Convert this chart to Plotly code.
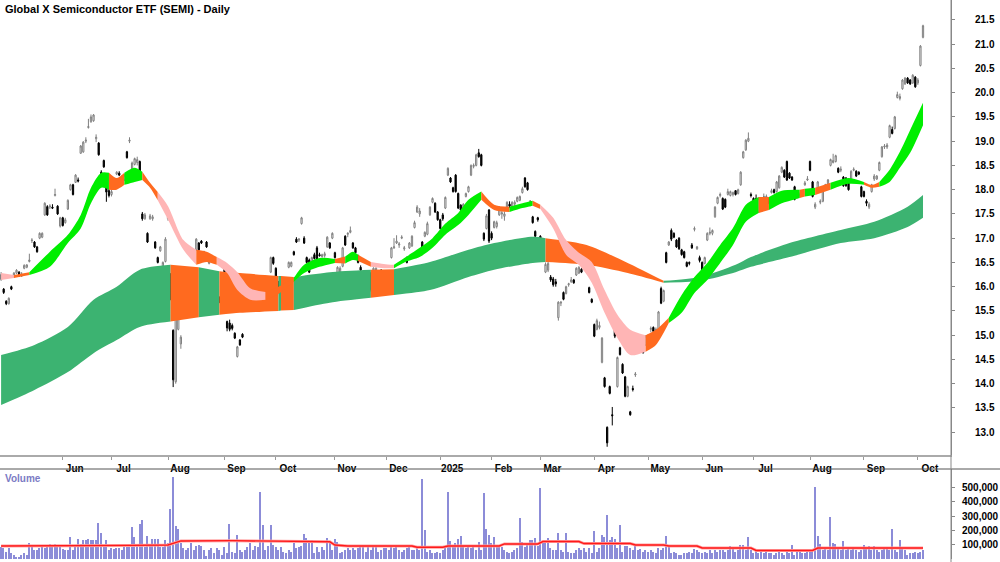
import pandas as pd
import plotly.graph_objects as go

# ---------------- calendar (trading days) ----------------
holidays = ["2024-05-27", "2024-06-19", "2024-07-04", "2024-09-02", "2024-11-28", "2024-12-25",
            "2025-01-01", "2025-01-09", "2025-01-20", "2025-02-17", "2025-04-18", "2025-05-26",
            "2025-06-19", "2025-07-04", "2025-09-01"]
dates = [d for d in pd.bdate_range("2024-04-29", "2025-10-03") if d.strftime("%Y-%m-%d") not in holidays]

# ---------------- price data ----------------
open_ = [
    16.15, 15.95, 15.70, 15.65, 16.00, 16.20, 16.28, 16.30, 16.22, 16.38,
    16.40, 16.52, 16.95, 16.92, 16.82, 17.00, 17.02, 17.48, 17.65, 17.64,
    17.64, 17.88, 17.66, 17.25, 17.42, 17.32, 17.60, 18.00, 18.10, 18.15,
    18.20, 18.75, 18.78, 19.00, 19.28, 19.40, 19.42, 19.05, 18.96, 18.36,
    18.60, 18.24, 17.98, 17.90, 18.02, 18.32, 18.34, 18.22, 18.20, 18.78,
    19.00, 18.35, 18.52, 18.56, 18.58, 17.50, 17.40, 17.10, 17.40, 17.40,
    16.92, 16.60, 16.74, 16.42, 16.52, 17.40, 16.25, 15.10, 14.04, 15.12,
    14.82, 15.64, 15.74, 15.68, 16.12, 16.34, 16.76, 16.90, 16.94, 16.70,
    16.92, 16.48, 16.52, 16.16, 16.26, 15.78, 15.95, 16.40, 15.28, 15.25,
    15.20, 15.04, 14.56, 14.90, 15.02, 15.56, 15.90, 15.80, 15.72, 15.60,
    15.70, 15.96, 15.92, 15.80, 15.88, 16.30, 16.60, 16.38, 16.10, 15.68,
    15.90, 16.04, 16.40, 16.42, 16.72, 16.98, 16.96, 17.30, 17.00, 16.60,
    16.55, 16.50, 16.66, 16.80, 16.66, 16.62, 16.64, 16.82, 16.90, 17.00,
    16.70, 16.26, 16.28, 16.42, 17.04, 17.08, 17.12, 16.90, 16.80, 16.64,
    16.40, 16.26, 16.24, 16.22, 16.28, 16.10, 16.30, 16.30, 16.34, 16.02,
    16.08, 16.10, 16.60, 16.80, 16.90, 16.86, 17.00, 16.78, 16.60, 16.80,
    16.84, 17.22, 17.54, 17.50, 16.92, 17.04, 17.08, 17.48, 17.74, 17.72,
    17.54, 17.38, 17.48, 17.62, 18.30, 18.24, 18.04, 18.30, 17.92, 17.68,
    17.62, 17.86, 17.96, 18.30, 18.48, 18.50, 18.76, 18.72, 17.10, 17.20,
    17.58, 17.10, 17.22, 17.24, 17.48, 17.50, 17.45, 17.62, 17.70, 17.64,
    17.70, 17.76, 17.78, 17.94, 18.24, 18.14, 17.72, 17.44, 17.14, 17.42,
    17.04, 16.62, 16.30, 16.34, 16.20, 16.16, 16.10, 15.36, 15.66, 15.88,
    15.86, 16.04, 16.10, 16.14, 16.24, 16.28, 16.36, 16.40, 16.42, 15.98,
    15.74, 15.22, 15.12, 15.16, 14.44, 14.12, 13.10, 13.94, 13.36, 15.38,
    13.94, 14.74, 14.40, 14.14, 13.74, 13.42, 13.90, 14.18, 14.74, 14.80,
    14.76, 14.80, 14.82, 15.12, 15.16, 15.10, 15.06, 15.96, 15.70, 16.70,
    16.86, 17.16, 17.10, 16.96, 17.00, 16.76, 16.72, 16.50, 16.50, 16.86,
    17.18, 16.78, 16.60, 16.50, 16.48, 16.96, 17.10, 17.10, 17.44, 17.72,
    17.88, 17.82, 17.80, 17.90, 17.88, 17.90, 17.98, 17.92, 18.10, 18.66,
    18.82, 19.00, 17.90, 17.82, 17.82, 17.54, 17.82, 17.86, 17.84, 17.82,
    17.94, 18.00, 17.96, 18.04, 18.36, 18.40, 18.58, 18.34, 18.26, 18.06,
    17.86, 17.88, 17.92, 18.10, 18.20, 18.58, 18.16, 17.64, 17.96, 17.74,
    17.76, 18.08, 18.06, 18.50, 18.56, 18.58, 18.44, 18.40, 18.26,
    18.24, 18.20, 18.18, 18.40, 18.38, 18.36, 18.06, 17.96, 17.76,
    17.64, 17.96, 18.22, 18.22, 18.40, 18.68, 18.88, 18.88, 19.08, 19.24,
    19.26, 19.90, 19.88, 20.08, 20.18, 20.30, 20.26, 20.20, 20.32, 20.20,
    20.56, 21.14,
]
high = [
    16.30, 15.97, 15.72, 15.78, 16.02, 16.30, 16.36, 16.32, 16.30, 16.46,
    16.46, 16.68, 17.00, 16.94, 16.84, 17.12, 17.12, 17.74, 17.68, 17.70,
    17.70, 18.02, 17.68, 17.44, 17.44, 17.42, 17.80, 18.12, 18.12, 18.32,
    18.25, 18.92, 19.00, 19.08, 19.46, 19.55, 19.56, 19.14, 18.98, 18.40,
    18.62, 18.26, 18.02, 18.00, 18.12, 18.38, 18.38, 18.30, 18.32, 18.80,
    19.08, 18.58, 18.66, 18.68, 18.60, 17.54, 17.52, 17.12, 17.50, 17.48,
    16.94, 16.62, 16.84, 16.52, 17.02, 17.50, 16.28, 15.12, 15.50, 15.38,
    15.00, 15.76, 15.76, 15.78, 16.20, 16.36, 17.00, 16.92, 16.96, 16.74,
    16.94, 16.54, 16.62, 16.30, 16.30, 15.80, 16.02, 16.42, 15.30, 15.32,
    15.24, 15.06, 14.78, 14.92, 15.04, 15.78, 15.98, 15.85, 15.74, 15.72,
    15.74, 15.98, 15.94, 15.84, 15.92, 16.62, 16.62, 16.40, 16.12, 15.78,
    15.96, 16.10, 16.52, 16.52, 16.74, 17.02, 17.00, 17.44, 17.04, 16.62,
    16.58, 16.62, 16.70, 16.84, 16.70, 16.68, 16.72, 17.04, 16.92, 17.12,
    16.72, 16.42, 16.42, 16.82, 17.06, 17.12, 17.24, 16.92, 16.82, 16.66,
    16.44, 16.30, 16.28, 16.26, 16.30, 16.40, 16.40, 16.34, 16.36, 16.14,
    16.10, 16.22, 16.82, 17.00, 17.06, 16.92, 17.06, 16.84, 16.62, 16.92,
    17.06, 17.36, 17.68, 17.62, 16.94, 17.14, 17.34, 17.66, 17.84, 17.74,
    17.56, 17.40, 17.52, 17.86, 18.46, 18.26, 18.06, 18.32, 17.94, 17.70,
    17.72, 17.94, 18.08, 18.52, 18.54, 18.74, 18.84, 18.74, 17.12, 17.50,
    17.60, 17.14, 17.36, 17.36, 17.66, 17.62, 17.55, 17.76, 17.76, 17.76,
    17.78, 17.86, 17.88, 18.06, 18.26, 18.16, 17.78, 17.46, 17.16, 17.44,
    17.06, 16.66, 16.50, 16.52, 16.24, 16.20, 16.16, 15.70, 15.70, 15.90,
    16.02, 16.08, 16.20, 16.16, 16.40, 16.42, 16.38, 16.52, 16.52, 16.00,
    15.76, 15.24, 15.34, 15.28, 14.96, 14.14, 13.12, 13.96, 13.52, 15.40,
    14.56, 14.76, 14.42, 14.16, 13.96, 13.44, 13.96, 14.24, 14.80, 14.82,
    14.80, 15.00, 15.02, 15.18, 15.18, 15.16, 15.50, 16.00, 15.94, 16.72,
    16.94, 17.20, 17.12, 16.98, 17.02, 16.78, 16.74, 16.52, 16.52, 16.90,
    17.24, 16.84, 16.64, 16.52, 16.62, 17.12, 17.22, 17.18, 17.66, 17.86,
    17.94, 17.84, 17.82, 18.02, 17.98, 17.96, 17.99, 18.02, 18.38, 18.80,
    19.04, 19.18, 17.94, 17.84, 17.90, 17.84, 17.84, 17.92, 17.90, 17.84,
    18.02, 18.02, 18.18, 18.30, 18.48, 18.42, 18.60, 18.36, 18.28, 18.08,
    17.94, 17.94, 17.98, 18.18, 18.28, 18.60, 18.18, 17.74, 18.18, 17.80,
    18.02, 18.12, 18.22, 18.64, 18.74, 18.72, 18.46, 18.48, 18.28,
    18.26, 18.22, 18.40, 18.46, 18.40, 18.38, 18.08, 17.98, 17.80,
    17.74, 18.12, 18.32, 18.30, 18.58, 18.90, 18.94, 18.96, 19.34, 19.30,
    19.52, 20.02, 19.98, 20.28, 20.32, 20.32, 20.28, 20.38, 20.34, 20.30,
    20.98, 21.40,
]
low = [
    16.12, 15.85, 15.62, 15.63, 15.93, 16.18, 16.26, 16.20, 16.20, 16.36,
    16.38, 16.50, 16.90, 16.80, 16.70, 16.98, 17.00, 17.46, 17.46, 17.60,
    17.60, 17.86, 17.48, 17.22, 17.24, 17.30, 17.58, 17.98, 17.88, 18.14,
    18.15, 18.74, 18.76, 18.96, 19.26, 19.38, 19.40, 18.98, 18.70, 18.08,
    18.45, 17.75, 17.84, 17.86, 18.00, 18.30, 18.28, 18.18, 18.18, 18.64,
    18.96, 18.30, 18.50, 18.50, 18.30, 17.36, 17.38, 16.90, 17.38, 17.36,
    16.78, 16.48, 16.72, 16.40, 16.50, 17.36, 15.72, 13.93, 14.00, 15.10,
    14.72, 15.62, 15.62, 15.66, 16.08, 16.22, 16.74, 16.74, 16.88, 16.66,
    16.80, 16.46, 16.50, 16.14, 16.14, 15.66, 15.93, 16.18, 15.08, 15.08,
    15.10, 14.92, 14.54, 14.78, 14.94, 15.54, 15.86, 15.70, 15.56, 15.58,
    15.62, 15.86, 15.72, 15.74, 15.82, 16.28, 16.45, 16.06, 15.98, 15.66,
    15.88, 16.02, 16.38, 16.40, 16.64, 16.90, 16.92, 17.28, 16.88, 16.48,
    16.28, 16.48, 16.56, 16.54, 16.62, 16.60, 16.60, 16.80, 16.78, 16.98,
    16.58, 16.24, 16.24, 16.40, 16.84, 17.02, 17.10, 16.78, 16.68, 16.48,
    16.30, 16.18, 16.18, 16.16, 15.90, 16.08, 16.28, 16.22, 16.18, 16.00,
    16.00, 16.08, 16.58, 16.78, 16.88, 16.80, 16.98, 16.74, 16.48, 16.78,
    16.82, 17.20, 17.52, 17.44, 16.78, 17.02, 17.06, 17.46, 17.72, 17.52,
    17.36, 17.18, 17.36, 17.60, 18.28, 18.14, 17.94, 17.94, 17.60, 17.56,
    17.60, 17.84, 17.94, 18.28, 18.44, 18.48, 18.66, 18.48, 16.94, 17.18,
    16.90, 16.96, 17.20, 17.20, 17.46, 17.40, 17.36, 17.60, 17.62, 17.62,
    17.66, 17.74, 17.76, 17.92, 18.04, 17.98, 17.66, 17.30, 17.02, 17.34,
    16.78, 16.56, 16.28, 16.30, 16.10, 16.00, 16.00, 15.30, 15.60, 15.72,
    15.84, 16.00, 16.08, 16.06, 16.22, 16.26, 16.28, 16.38, 16.40, 15.86,
    15.66, 14.96, 15.10, 15.12, 14.42, 13.92, 12.70, 13.78, 13.14, 14.94,
    13.92, 14.58, 14.20, 13.72, 13.72, 13.34, 13.84, 14.14, 14.70, 14.64,
    14.62, 14.78, 14.80, 15.06, 15.06, 15.04, 15.04, 15.64, 15.68, 16.48,
    16.84, 16.94, 17.00, 16.80, 16.76, 16.64, 16.58, 16.40, 16.44, 16.78,
    17.14, 16.76, 16.50, 16.28, 16.46, 16.94, 17.06, 17.06, 17.42, 17.70,
    17.84, 17.58, 17.62, 17.88, 17.86, 17.86, 17.88, 17.90, 18.08, 18.64,
    18.80, 18.98, 17.84, 17.72, 17.78, 17.52, 17.68, 17.82, 17.80, 17.70,
    17.92, 17.92, 17.94, 18.02, 18.34, 18.24, 18.18, 18.22, 18.18, 17.78,
    17.82, 17.84, 17.88, 18.08, 18.18, 18.38, 17.84, 17.60, 17.94, 17.70,
    17.74, 18.04, 18.04, 18.48, 18.54, 18.56, 18.34, 18.36, 18.06,
    18.06, 17.98, 18.16, 18.38, 18.26, 18.30, 17.84, 17.84, 17.66,
    17.60, 17.94, 18.18, 18.20, 18.38, 18.66, 18.84, 18.84, 19.06, 19.14,
    19.24, 19.88, 19.84, 20.06, 20.16, 20.18, 20.16, 20.18, 20.10, 20.16,
    20.54, 21.12,
]
close = [
    16.25, 15.88, 15.65, 15.76, 15.95, 16.28, 16.34, 16.22, 16.26, 16.44,
    16.45, 16.55, 16.96, 16.82, 16.72, 17.10, 17.10, 17.72, 17.48, 17.66,
    17.62, 17.90, 17.50, 17.42, 17.26, 17.38, 17.78, 18.10, 17.90, 18.30,
    18.18, 18.90, 18.98, 19.02, 19.30, 19.50, 19.54, 19.08, 18.72, 18.10,
    18.47, 17.95, 17.88, 17.96, 18.10, 18.36, 18.30, 18.26, 18.30, 18.66,
    19.02, 18.55, 18.64, 18.62, 18.34, 17.40, 17.48, 16.92, 17.46, 17.44,
    16.80, 16.50, 16.82, 16.50, 16.98, 17.44, 15.74, 14.08, 15.46, 15.36,
    14.96, 15.74, 15.66, 15.76, 16.14, 16.24, 16.98, 16.76, 16.90, 16.72,
    16.82, 16.52, 16.54, 16.28, 16.16, 15.68, 16.00, 16.20, 15.15, 15.12,
    15.14, 14.94, 14.76, 14.80, 14.96, 15.76, 15.88, 15.74, 15.58, 15.70,
    15.66, 15.88, 15.74, 15.78, 15.84, 16.60, 16.48, 16.08, 16.00, 15.76,
    15.94, 16.08, 16.50, 16.50, 16.66, 16.92, 16.98, 17.42, 16.90, 16.50,
    16.30, 16.60, 16.58, 16.56, 16.64, 16.66, 16.68, 17.02, 16.80, 17.10,
    16.60, 16.40, 16.38, 16.80, 16.86, 17.10, 17.16, 16.80, 16.70, 16.50,
    16.34, 16.22, 16.20, 16.20, 15.94, 16.38, 16.38, 16.26, 16.20, 16.12,
    16.02, 16.20, 16.80, 16.82, 16.94, 16.88, 17.02, 16.80, 16.50, 16.90,
    17.04, 17.32, 17.64, 17.56, 16.80, 17.12, 17.30, 17.64, 17.82, 17.54,
    17.38, 17.20, 17.40, 17.84, 18.44, 18.16, 17.96, 17.96, 17.62, 17.58,
    17.70, 17.92, 18.06, 18.50, 18.50, 18.72, 18.68, 18.50, 16.98, 17.46,
    16.94, 17.00, 17.34, 17.32, 17.64, 17.52, 17.50, 17.74, 17.66, 17.74,
    17.74, 17.84, 17.86, 18.02, 18.06, 18.00, 17.70, 17.32, 17.04, 17.38,
    16.80, 16.58, 16.46, 16.48, 16.14, 16.04, 16.06, 15.68, 15.68, 15.74,
    16.00, 16.06, 16.14, 16.08, 16.38, 16.40, 16.30, 16.50, 16.48, 15.88,
    15.68, 14.98, 15.30, 15.20, 14.94, 13.94, 12.78, 13.80, 13.34, 14.98,
    14.54, 14.60, 14.22, 13.74, 13.94, 13.36, 13.88, 14.20, 14.76, 14.66,
    14.64, 14.98, 15.00, 15.14, 15.08, 15.12, 15.48, 15.66, 15.92, 16.50,
    16.92, 16.98, 17.02, 16.82, 16.78, 16.66, 16.60, 16.42, 16.48, 16.80,
    17.20, 16.82, 16.54, 16.30, 16.60, 17.10, 17.12, 17.16, 17.64, 17.84,
    17.90, 17.60, 17.64, 17.96, 17.96, 17.94, 17.90, 18.00, 18.36, 18.78,
    19.02, 19.06, 17.88, 17.74, 17.80, 17.82, 17.70, 17.86, 17.86, 17.72,
    17.98, 17.94, 18.16, 18.28, 18.46, 18.26, 18.20, 18.24, 18.20, 17.80,
    17.88, 17.90, 17.94, 18.14, 18.22, 18.40, 17.86, 17.70, 18.16, 17.76,
    18.00, 18.10, 18.20, 18.62, 18.60, 18.70, 18.36, 18.42, 18.08,
    18.08, 18.00, 18.38, 18.42, 18.28, 18.32, 17.86, 17.86, 17.72,
    17.70, 18.10, 18.28, 18.28, 18.56, 18.88, 18.90, 18.92, 19.32, 19.16,
    19.50, 19.96, 19.92, 20.26, 20.30, 20.20, 20.18, 20.36, 20.12, 20.26,
    20.96, 21.38,
]

# volume in thousands of shares
volume_k = [
    84, 77, 54, 77, 42, 31, 19, 19, 31,
    42, 31, 111, 93, 65, 65, 77, 93, 77, 93,
    107, 100, 107, 88, 93, 70, 65, 65, 153, 65,
    93, 144, 107, 135, 135, 139, 135, 135, 135, 255,
    181, 88, 135, 65, 77, 70, 77, 77, 65, 88,
    100, 93, 222, 158, 93, 243, 273, 88, 162, 100,
    139, 141, 141, 88, 88, 135, 111, 350, 569, 232,
    213, 111, 77, 65, 77, 111, 65, 93, 100, 93,
    65, 24, 65, 77, 42, 77, 65, 31, 88, 42,
    245, 54, 42, 169, 65, 54, 65, 88, 111, 65,
    93, 88, 470, 239, 65, 93, 239, 100, 88, 65,
    88, 54, 42, 65, 54, 111, 77, 88, 93, 174,
    151, 135, 135, 42, 88, 54, 88, 65, 151, 123,
    65, 139, 123, 42, 54, 65, 77, 65, 77,
    65, 77, 88, 93, 54, 88, 65, 88, 93,
    54, 65, 77, 77, 65, 93, 77, 84, 65, 54,
    65, 77, 93, 65, 65, 77, 65, 555, 204, 54,
    65, 42, 42, 54, 42, 65, 88, 465, 130, 93,
    111, 141, 162, 93, 77, 88, 77, 88, 65, 123,
    65, 463, 209, 169, 111, 158, 93, 93,
    88, 65, 54, 42, 54, 65, 77,
    289, 123, 88, 100, 135, 135, 146, 93,
    497,
    123, 135, 146, 77, 65, 65,
    185, 65, 54, 185,
    54, 42, 42, 65, 77, 65, 77, 54, 77, 42,
    199, 54, 77, 169, 158, 308, 135, 153, 141, 77, 239,
    54, 93, 93, 77, 65, 100, 65, 70, 54, 65, 54, 65, 54, 42, 77, 65, 77,
    160,
    88, 42, 54, 42, 31, 31, 42, 42, 54, 42, 70, 65, 54, 42, 54, 42, 65, 42, 65, 54, 65, 65, 54, 65,
    93, 77, 54, 65, 100, 100, 65, 153,
    65, 42, 65, 42, 54, 42, 54, 42, 42, 31, 42, 54, 42, 31, 54, 42,
    100,
    31, 54, 65, 42, 42, 54, 54, 65,
    504,
    162, 104, 65, 77, 65,
    292,
    111, 104, 88, 65,
    128,
    65, 88, 65, 77, 65, 54, 65, 100, 77, 93, 65, 93, 65, 54, 65, 88, 77, 65,
    209, 65, 54, 135,
    88, 65, 31, 42, 42, 54, 42, 54, 65,
]

# volume moving average (red line), read at break points: day index / thousands
vol_ma_idx = [0, 22, 50, 65, 67, 70, 90, 113, 116, 128, 130, 135, 160, 162, 172, 174, 194, 196,
              209, 211, 225, 227, 245, 247, 258, 260, 271, 273, 292, 294, 316, 318, 359]
vol_ma_k = [93, 93, 97, 100, 110, 128, 130, 128, 124, 122, 100, 93, 93, 84, 84, 93, 93, 107,
            107, 124, 124, 110, 110, 100, 100, 93, 93, 79, 79, 62, 62, 79, 79]

# short-term ribbon (upper / lower edge), read at day indices
short_idx = [0, 5, 11, 19, 26, 31, 35, 39, 42, 45, 48, 52, 55, 58, 61, 65, 71, 76, 80, 84, 88, 92,
             97, 103, 108, 114, 118, 124, 130, 134, 137, 139, 144, 149, 153, 157, 163, 168, 173,
             178, 182, 187, 192, 198, 203, 207, 210, 215, 220, 225, 230, 235, 240, 245, 251, 255,
             260, 265, 270, 275, 280, 285, 290, 295, 299, 304, 311, 313, 317, 323, 330, 336, 339,
             342, 346, 350, 354, 359]
short_top = [16.28, 16.24, 16.30, 16.72, 17.07, 17.48, 18.04, 18.35, 18.35, 18.24, 18.35, 18.45,
             18.37, 18.14, 17.95, 17.66, 16.96, 16.76, 16.72, 16.61, 16.49, 16.30, 15.97, 15.89,
             16.00, 16.18, 16.45, 16.59, 16.57, 16.62, 16.72, 16.66, 16.51, 16.47, 16.45, 16.59,
             16.80, 17.00, 17.30, 17.52, 17.79, 17.96, 17.69, 17.65, 17.72, 17.77, 17.69, 17.42,
             16.96, 16.70, 16.51, 15.93, 15.42, 15.11, 15.00, 15.11, 15.36, 15.83, 16.20, 16.49,
             16.86, 17.21, 17.69, 17.85, 17.85, 17.98, 18.00, 18.02, 18.04, 18.14, 18.24, 18.16,
             18.10, 18.16, 18.41, 18.78, 19.23, 19.79]
short_bot = [16.14, 16.18, 16.24, 16.41, 16.90, 17.20, 17.72, 18.04, 18.00, 18.00, 18.10, 18.16,
             18.20, 18.04, 17.78, 17.38, 16.76, 16.45, 16.51, 16.45, 16.28, 15.93, 15.73, 15.73,
             15.85, 16.10, 16.28, 16.41, 16.49, 16.48, 16.55, 16.53, 16.41, 16.38, 16.38, 16.50,
             16.61, 16.80, 17.07, 17.27, 17.48, 17.79, 17.58, 17.54, 17.62, 17.67, 17.60, 17.20,
             16.66, 16.45, 16.08, 15.46, 14.94, 14.59, 14.66, 14.80, 15.25, 15.46, 15.87, 16.14,
             16.49, 16.86, 17.34, 17.52, 17.58, 17.72, 17.83, 17.86, 17.89, 18.00, 18.12, 18.10,
             18.04, 18.06, 18.16, 18.45, 18.76, 19.33]
# colour state of the short ribbon: (from day, to day, state)
short_state = [(0, 5, "down"), (5, 11, "mixed"), (11, 42, "up"), (42, 48, "mixed"), (48, 55, "up"),
               (55, 61, "mixed"), (61, 76, "down"), (76, 84, "mixed"), (84, 103, "down"),
               (103, 114, "mixed"), (114, 130, "up"), (130, 134, "mixed"), (134, 139, "up"),
               (139, 144, "mixed"), (144, 153, "down"), (153, 187, "up"), (187, 198, "mixed"),
               (198, 207, "up"), (207, 210, "mixed"), (210, 251, "down"), (251, 260, "mixed"),
               (260, 295, "up"), (295, 299, "mixed"), (299, 311, "up"), (311, 313, "mixed"),
               (313, 317, "up"), (317, 323, "mixed"), (323, 336, "up"), (336, 342, "mixed"),
               (342, 359, "up")]

# long-term ribbon
long_idx = [0, 13, 26, 36, 45, 54, 66, 77, 85, 93, 108, 109, 114, 128, 144, 153, 167, 182, 192,
            207, 212, 228, 244, 258, 272, 286, 292, 307, 327, 340, 353, 359]
long_top = [14.59, 14.80, 15.17, 15.73, 16.00, 16.35, 16.45, 16.40, 16.32, 16.28, 16.22, 16.22,
            16.20, 16.30, 16.35, 16.36, 16.51, 16.76, 16.90, 17.03, 17.00, 16.86, 16.49, 16.12,
            16.20, 16.45, 16.61, 16.90, 17.17, 17.34, 17.65, 17.89]
long_bot = [13.56, 13.87, 14.24, 14.63, 14.90, 15.17, 15.28, 15.37, 15.42, 15.46, 15.50, 15.51,
            15.52, 15.67, 15.77, 15.83, 15.93, 16.20, 16.35, 16.49, 16.51, 16.45, 16.28, 16.08,
            16.12, 16.30, 16.41, 16.61, 16.90, 17.00, 17.23, 17.42]
long_state = [(0, 66, "up"), (66, 77, "mixed"), (77, 85, "up"), (85, 108, "mixed"), (108, 109, "up"),
              (109, 114, "mixed"), (114, 144, "up"), (144, 153, "mixed"), (153, 212, "up"),
              (212, 258, "mixed"), (258, 359, "up")]

price_ticks = [13.0, 13.5, 14.0, 14.5, 15.0, 15.5, 16.0, 16.5, 17.0, 17.5, 18.0, 18.5, 19.0,
               19.5, 20.0, 20.5, 21.0, 21.5]
volume_ticks = [100000, 200000, 300000, 400000, 500000]
first_labelled_month = "2024-06"

# ---------------- figure ----------------
x = list(range(len(close)))
volume = [v * 1000 for v in volume_k]
vol_ma = [v * 1000 for v in vol_ma_k]

short_colors = {"up": "#00EE00", "mixed": "#FF6A1F", "down": "#FFB5B5"}
long_colors = {"up": "#3CB371", "mixed": "#FF6A1F"}

fig = go.Figure()


def add_band(idx, top, bot, states, colors):
    for a, b, st in states:
        sel = [k for k, i in enumerate(idx) if a <= i <= b]
        xs = [idx[k] for k in sel]
        fig.add_trace(go.Scatter(x=xs, y=[bot[k] for k in sel], mode="lines",
                                 line=dict(width=0, shape="spline", smoothing=0.8),
                                 hoverinfo="skip", xaxis="x", yaxis="y"))
        fig.add_trace(go.Scatter(x=xs, y=[top[k] for k in sel], mode="lines",
                                 line=dict(width=0, shape="spline", smoothing=0.8),
                                 fill="tonexty", fillcolor=colors[st],
                                 hoverinfo="skip", xaxis="x", yaxis="y"))


add_band(long_idx, long_top, long_bot, long_state, long_colors)
add_band(short_idx, short_top, short_bot, short_state, short_colors)

fig.add_trace(go.Candlestick(
    x=x, open=open_, high=high, low=low, close=close,
    increasing=dict(line=dict(color="#808080", width=1), fillcolor="#FFFFFF"),
    decreasing=dict(line=dict(color="#000000", width=1), fillcolor="#000000"),
    whiskerwidth=0, xaxis="x", yaxis="y", name="SEMI"))

fig.add_trace(go.Bar(x=x, y=volume, marker=dict(color="#8C8CD8", line=dict(width=0)),
                     width=0.55, xaxis="x2", yaxis="y2", name="Volume"))
fig.add_trace(go.Scatter(x=vol_ma_idx, y=vol_ma, mode="lines",
                         line=dict(color="#FFA0A0", width=3), xaxis="x2", yaxis="y2"))
fig.add_trace(go.Scatter(x=vol_ma_idx, y=vol_ma, mode="lines",
                         line=dict(color="#FF1A1A", width=1.4), xaxis="x2", yaxis="y2"))

# month ticks (first trading day of each month)
month_idx, month_txt = [], []
prev = None
for i, d in enumerate(dates):
    key = (d.year, d.month)
    if key != prev:
        if d.strftime("%Y-%m") >= first_labelled_month:
            month_idx.append(i)
            month_txt.append(str(d.year) if d.month == 1 else d.strftime("%b"))
        prev = key

W, H = 1000, 562
plot_right = 951
xr = [-0.43, 369.9]
font = "Liberation Sans, Arial, sans-serif"

fig.update_layout(
    width=W, height=H, margin=dict(l=0, r=W - plot_right, t=0, b=0),
    paper_bgcolor="white", plot_bgcolor="white", showlegend=False,
    font=dict(family=font, color="black"),
    xaxis=dict(domain=[0, 1], range=xr, anchor="y", tickmode="array", tickvals=month_idx,
               ticktext=month_txt, ticks="outside", ticklen=3, tickcolor="#999999",
               showline=True, linecolor="#AAAAAA", linewidth=2, showgrid=False, zeroline=False,
               tickfont=dict(size=10, family=font, color="black", weight="bold"),
               ticklabelshift=12, rangeslider=dict(visible=False)),
    xaxis2=dict(domain=[0, 1], range=xr, anchor="y2", matches="x", showticklabels=False,
                showline=False, showgrid=False, zeroline=False, ticks=""),
    yaxis=dict(domain=[1 - 455 / H, 1], range=[12.53, 21.91], side="right", anchor="x",
               tickmode="array", tickvals=price_ticks, ticktext=[f"{v:.1f}" for v in price_ticks],
               ticks="outside", ticklen=3, tickcolor="#888888", showline=True, linecolor="#888888",
               showgrid=False, zeroline=False, ticklabelstandoff=18,
               tickfont=dict(size=10, family=font, color="black", weight="bold")),
    yaxis2=dict(domain=[1 - 559.4 / H, 1 - 469 / H], range=[0, 627000], side="right", anchor="x2",
                tickmode="array", tickvals=volume_ticks, ticktext=[f"{v:,}" for v in volume_ticks],
                ticks="outside", ticklen=3, tickcolor="#888888", showline=True, linecolor="#888888",
                showgrid=False, zeroline=False, ticklabelstandoff=5,
                tickfont=dict(size=10, family=font, color="black", weight="bold")),
    bargap=0,
)

fig.add_shape(type="line", xref="paper", yref="paper", x0=0, x1=W / plot_right,
              y0=1 - 469 / H, y1=1 - 469 / H, line=dict(color="#555555", width=1))
fig.add_shape(type="line", xref="paper", yref="paper", x0=1, x1=1, y0=0, y1=1,
              line=dict(color="#888888", width=1))

fig.add_annotation(text="<b>Global X Semiconductor ETF (SEMI) - Daily</b>", xref="paper", yref="paper",
                   x=3 / plot_right, y=1 - 9 / H, xanchor="left", yanchor="middle", showarrow=False,
                   font=dict(size=11, family=font, color="black"))
fig.add_annotation(text="<b>Volume</b>", xref="paper", yref="paper",
                   x=3 / plot_right, y=1 - 478 / H, xanchor="left", yanchor="middle", showarrow=False,
                   font=dict(size=10, family=font, color="#7B7BC4"))

fig.write_html("out.html")
